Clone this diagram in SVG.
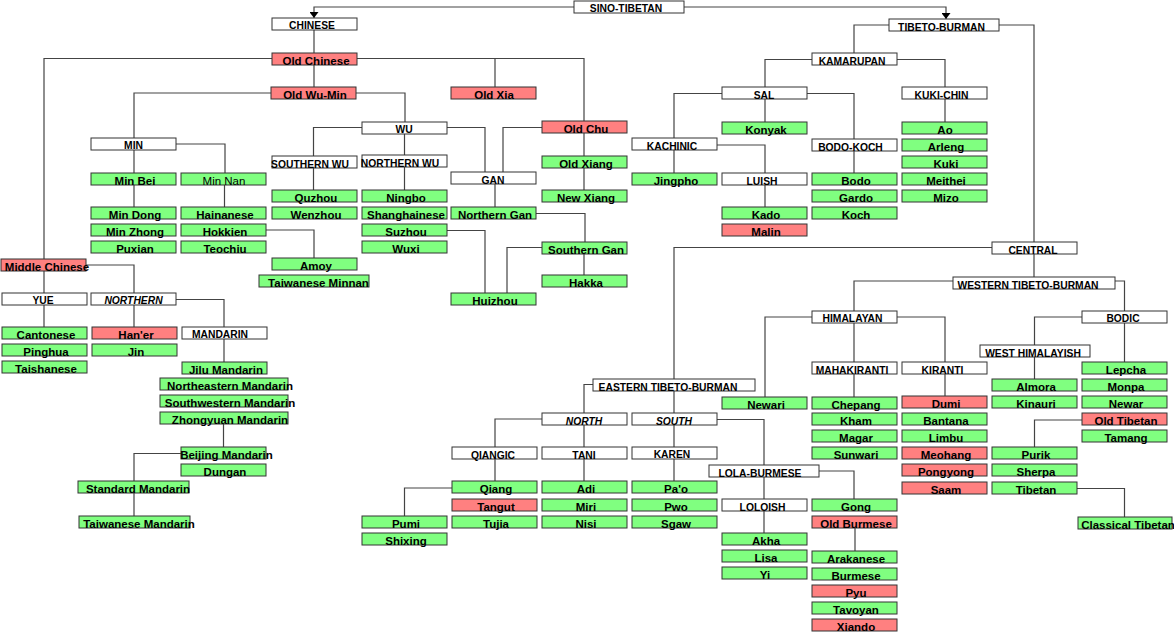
<svg xmlns="http://www.w3.org/2000/svg" width="1174" height="632" viewBox="0 0 1174 632">
<defs>
<style>
rect{stroke:#333;stroke-width:1}
.w{fill:#fff}.g{fill:#80ff80}.r{fill:#ff8080}
text{font-family:"Liberation Sans",Arial,sans-serif;font-weight:bold;text-anchor:middle;fill:#000}
.l{font-size:11.5px}
.u{font-size:10.3px}
.i{font-style:italic}
.nb{font-weight:normal}
#connectors path{fill:none;stroke:#444;stroke-width:1.2}
</style>
<marker id="arr" viewBox="0 0 6 9" refX="6" refY="4.5" markerWidth="6" markerHeight="9" markerUnits="userSpaceOnUse" orient="auto"><path d="M0,0 L6,4.5 L0,9 z" fill="#000"/></marker>
</defs>
<rect x="0" y="0" width="1174" height="632" style="fill:#fff;stroke:none"/>
<g id="connectors">
<path d="M574,7 H314 V18" marker-end="url(#arr)"/>
<path d="M684,7 H946 V19" marker-end="url(#arr)"/>
<path d="M314,30 V53"/>
<path d="M314,65 V87"/>
<path d="M272,58.5 H44 V259"/>
<path d="M357,58.5 H584 V121"/>
<path d="M495,58.5 V87"/>
<path d="M271,93 H134 V138"/>
<path d="M356,93 H405 V122"/>
<path d="M362,127.5 H313.5 V156"/>
<path d="M404.5,134 V155"/>
<path d="M447,127.5 H485 V172"/>
<path d="M542,127.5 H503 V172"/>
<path d="M584,133 V156"/>
<path d="M584,168 V190"/>
<path d="M134,150 V173"/>
<path d="M176,144 H225 V173"/>
<path d="M134,185 V207"/>
<path d="M224.5,185 V207"/>
<path d="M313.5,168 V190"/>
<path d="M404.5,167 V190"/>
<path d="M495,184 V207"/>
<path d="M266,230 H314 V258"/>
<path d="M536,213.5 H585 V242"/>
<path d="M542,247.5 H507 V293"/>
<path d="M447,230.5 H485 V293"/>
<path d="M584,254 V275"/>
<path d="M44,271 V293"/>
<path d="M86,265 H134 V293"/>
<path d="M44,305 V327"/>
<path d="M134,305 V327"/>
<path d="M176,299.5 H224 V327"/>
<path d="M224,339 V362"/>
<path d="M223.5,424 V447"/>
<path d="M181,453.5 H134 V481"/>
<path d="M134,493 V516"/>
<path d="M889,25 H854 V53"/>
<path d="M999,25 H1034 V242"/>
<path d="M812,59.5 H765 V87"/>
<path d="M897,59.5 H945 V87"/>
<path d="M722,93.5 H674 V138"/>
<path d="M765,99 V122"/>
<path d="M807,93.5 H854 V139"/>
<path d="M945,99 V122"/>
<path d="M674,150 V173"/>
<path d="M717,145 H765 V173"/>
<path d="M765,185 V207"/>
<path d="M854,151 V173"/>
<path d="M992,247.5 H674 V379"/>
<path d="M1034,254 V277"/>
<path d="M953,281 H854 V311"/>
<path d="M1115,281 H1124.5 V311"/>
<path d="M812,317 H765 V397"/>
<path d="M854,323 V362"/>
<path d="M897,317 H945 V362"/>
<path d="M1082,317 H1034.5 V345"/>
<path d="M1124.5,323 V362"/>
<path d="M1034.5,357 V379"/>
<path d="M854,374 V397"/>
<path d="M945,374 V396"/>
<path d="M1082,420 H1034.5 V447"/>
<path d="M1077,488.5 H1124.5 V517"/>
<path d="M593,384.5 H584 V413"/>
<path d="M674,391 V413"/>
<path d="M717,419.5 H764 V465"/>
<path d="M542,419 H495 V447"/>
<path d="M584,425 V447"/>
<path d="M674,425 V447"/>
<path d="M495,459 V481"/>
<path d="M584,459 V481"/>
<path d="M674,459 V481"/>
<path d="M452,488 H404.5 V516"/>
<path d="M764,477 V499"/>
<path d="M819,471 H854 V499"/>
<path d="M764,511 V533"/>
<path d="M855,528 V551"/>
</g>
<g id="n-sino-tibetan"><rect class="w" x="574" y="1" width="110" height="12"/><text class="u" x="626" y="12">SINO-TIBETAN</text></g>
<g id="n-chinese"><rect class="w" x="272" y="18" width="85" height="12"/><text class="u" x="312" y="29">CHINESE</text></g>
<g id="n-old-chinese"><rect class="r" x="272" y="53" width="85" height="12"/><text class="l" x="316" y="64.6">Old Chinese</text></g>
<g id="n-old-wu-min"><rect class="r" x="271" y="87" width="85" height="12"/><text class="l" x="315" y="98.6">Old Wu-Min</text></g>
<g id="n-old-xia"><rect class="r" x="451" y="87" width="85" height="12"/><text class="l" x="494" y="98.6">Old Xia</text></g>
<g id="n-wu"><rect class="w" x="362" y="122" width="85" height="12"/><text class="u" x="404" y="133">WU</text></g>
<g id="n-old-chu"><rect class="r" x="542" y="121" width="85" height="12"/><text class="l" x="586" y="132.6">Old Chu</text></g>
<g id="n-min"><rect class="w" x="91" y="138" width="85" height="12"/><text class="u" x="133.5" y="149">MIN</text></g>
<g id="n-southern-wu"><rect class="w" x="272" y="156" width="85" height="12"/><text class="u" x="310" y="167.5">SOUTHERN WU</text></g>
<g id="n-northern-wu"><rect class="w" x="362" y="155" width="85" height="12"/><text class="u" x="400" y="166.5">NORTHERN WU</text></g>
<g id="n-gan"><rect class="w" x="451" y="172" width="85" height="12"/><text class="u" x="493" y="183.5">GAN</text></g>
<g id="n-old-xiang"><rect class="g" x="542" y="156" width="85" height="12"/><text class="l" x="586" y="167.6">Old Xiang</text></g>
<g id="n-min-bei"><rect class="g" x="91" y="173" width="85" height="12"/><text class="l" x="135" y="184.6">Min Bei</text></g>
<g id="n-min-nan"><rect class="g" x="181" y="173" width="85" height="12"/><text class="l nb" x="224" y="184.6">Min Nan</text></g>
<g id="n-quzhou"><rect class="g" x="272" y="190" width="85" height="12"/><text class="l" x="316" y="201.6">Quzhou</text></g>
<g id="n-ningbo"><rect class="g" x="362" y="190" width="85" height="12"/><text class="l" x="406" y="201.6">Ningbo</text></g>
<g id="n-new-xiang"><rect class="g" x="542" y="190" width="85" height="12"/><text class="l" x="586" y="201.6">New Xiang</text></g>
<g id="n-min-dong"><rect class="g" x="91" y="207" width="85" height="12"/><text class="l" x="135" y="218.6">Min Dong</text></g>
<g id="n-hainanese"><rect class="g" x="181" y="207" width="85" height="12"/><text class="l" x="225" y="218.6">Hainanese</text></g>
<g id="n-wenzhou"><rect class="g" x="272" y="207" width="85" height="12"/><text class="l" x="316" y="218.6">Wenzhou</text></g>
<g id="n-shanghainese"><rect class="g" x="362" y="207" width="85" height="12"/><text class="l" x="406" y="218.6">Shanghainese</text></g>
<g id="n-northern-gan"><rect class="g" x="451" y="207" width="85" height="12"/><text class="l" x="495" y="218.6">Northern Gan</text></g>
<g id="n-min-zhong"><rect class="g" x="91" y="224" width="85" height="12"/><text class="l" x="135" y="235.6">Min Zhong</text></g>
<g id="n-hokkien"><rect class="g" x="181" y="224" width="85" height="12"/><text class="l" x="225" y="235.6">Hokkien</text></g>
<g id="n-suzhou"><rect class="g" x="362" y="224" width="85" height="12"/><text class="l" x="406" y="235.6">Suzhou</text></g>
<g id="n-puxian"><rect class="g" x="91" y="241" width="85" height="12"/><text class="l" x="135" y="252.6">Puxian</text></g>
<g id="n-teochiu"><rect class="g" x="181" y="241" width="85" height="12"/><text class="l" x="225" y="252.6">Teochiu</text></g>
<g id="n-wuxi"><rect class="g" x="362" y="241" width="85" height="12"/><text class="l" x="406" y="252.6">Wuxi</text></g>
<g id="n-southern-gan"><rect class="g" x="542" y="242" width="85" height="12"/><text class="l" x="586" y="253.6">Southern Gan</text></g>
<g id="n-amoy"><rect class="g" x="272" y="258" width="85" height="12"/><text class="l" x="316" y="269.6">Amoy</text></g>
<g id="n-middle-chinese"><rect class="r" x="1" y="259" width="85" height="12"/><text class="l" x="47" y="270.6">Middle Chinese</text></g>
<g id="n-taiwanese-minnan"><rect class="g" x="259" y="275" width="110" height="12"/><text class="l" x="318.5" y="286.6">Taiwanese Minnan</text></g>
<g id="n-hakka"><rect class="g" x="542" y="275" width="85" height="12"/><text class="l" x="586" y="286.6">Hakka</text></g>
<g id="n-yue"><rect class="w" x="2" y="293" width="85" height="12"/><text class="u" x="43" y="304.3">YUE</text></g>
<g id="n-northern"><rect class="w" x="91" y="293" width="85" height="12"/><text class="u i" x="133.5" y="304.3">NORTHERN</text></g>
<g id="n-huizhou"><rect class="g" x="451" y="293" width="85" height="12"/><text class="l" x="495" y="304.6">Huizhou</text></g>
<g id="n-cantonese"><rect class="g" x="2" y="327" width="85" height="12"/><text class="l" x="46" y="338.6">Cantonese</text></g>
<g id="n-haner"><rect class="r" x="92" y="327" width="85" height="12"/><text class="l" x="136" y="338.6">Han'er</text></g>
<g id="n-mandarin"><rect class="w" x="182" y="327" width="85" height="12"/><text class="u" x="220" y="338.3">MANDARIN</text></g>
<g id="n-pinghua"><rect class="g" x="2" y="344" width="85" height="12"/><text class="l" x="46" y="355.6">Pinghua</text></g>
<g id="n-jin"><rect class="g" x="92" y="344" width="85" height="12"/><text class="l" x="136" y="355.6">Jin</text></g>
<g id="n-taishanese"><rect class="g" x="2" y="361" width="85" height="12"/><text class="l" x="46" y="372.6">Taishanese</text></g>
<g id="n-jilu-mandarin"><rect class="g" x="182" y="362" width="85" height="12"/><text class="l" x="226" y="373.6">Jilu Mandarin</text></g>
<g id="n-northeastern-mandarin"><rect class="g" x="160" y="378" width="128" height="12"/><text class="l" x="230" y="389.6">Northeastern Mandarin</text></g>
<g id="n-southwestern-mandarin"><rect class="g" x="160" y="395" width="128" height="12"/><text class="l" x="230" y="406.6">Southwestern Mandarin</text></g>
<g id="n-zhongyuan-mandarin"><rect class="g" x="160" y="412" width="128" height="12"/><text class="l" x="230" y="423.6">Zhongyuan Mandarin</text></g>
<g id="n-beijing-mandarin"><rect class="g" x="181" y="447" width="85" height="12"/><text class="l" x="226.5" y="458.6">Beijing Mandarin</text></g>
<g id="n-dungan"><rect class="g" x="181" y="464" width="85" height="12"/><text class="l" x="225" y="475.6">Dungan</text></g>
<g id="n-standard-mandarin"><rect class="g" x="78" y="481" width="111" height="12"/><text class="l" x="138" y="492.6">Standard Mandarin</text></g>
<g id="n-taiwanese-mandarin"><rect class="g" x="79" y="516" width="111" height="12"/><text class="l" x="139" y="527.6">Taiwanese Mandarin</text></g>
<g id="n-tibeto-burman"><rect class="w" x="889" y="19" width="110" height="12"/><text class="u" x="941.5" y="30.5">TIBETO-BURMAN</text></g>
<g id="n-kamarupan"><rect class="w" x="812" y="53" width="85" height="12"/><text class="u" x="852" y="64.6">KAMARUPAN</text></g>
<g id="n-sal"><rect class="w" x="722" y="87" width="85" height="12"/><text class="u" x="764" y="98.5">SAL</text></g>
<g id="n-kuki-chin"><rect class="w" x="902" y="87" width="85" height="12"/><text class="u" x="941.5" y="98.5">KUKI-CHIN</text></g>
<g id="n-konyak"><rect class="g" x="722" y="122" width="85" height="12"/><text class="l" x="766" y="133.6">Konyak</text></g>
<g id="n-ao"><rect class="g" x="902" y="122" width="85" height="12"/><text class="l" x="945" y="133.6">Ao</text></g>
<g id="n-kachinic"><rect class="w" x="632" y="138" width="85" height="12"/><text class="u" x="672" y="149.5">KACHINIC</text></g>
<g id="n-bodo-koch"><rect class="w" x="812" y="139" width="85" height="12"/><text class="u" x="850.5" y="150.5">BODO-KOCH</text></g>
<g id="n-arleng"><rect class="g" x="902" y="139" width="85" height="12"/><text class="l" x="946" y="150.6">Arleng</text></g>
<g id="n-kuki"><rect class="g" x="902" y="156" width="85" height="12"/><text class="l" x="946" y="167.6">Kuki</text></g>
<g id="n-jingpho"><rect class="g" x="632" y="173" width="85" height="12"/><text class="l" x="676" y="184.6">Jingpho</text></g>
<g id="n-luish"><rect class="w" x="722" y="173" width="85" height="12"/><text class="u" x="762" y="184.5">LUISH</text></g>
<g id="n-bodo"><rect class="g" x="812" y="173" width="85" height="12"/><text class="l" x="856" y="184.6">Bodo</text></g>
<g id="n-meithei"><rect class="g" x="902" y="173" width="85" height="12"/><text class="l" x="946" y="184.6">Meithei</text></g>
<g id="n-gardo"><rect class="g" x="812" y="190" width="85" height="12"/><text class="l" x="856" y="201.6">Gardo</text></g>
<g id="n-mizo"><rect class="g" x="902" y="190" width="85" height="12"/><text class="l" x="946" y="201.6">Mizo</text></g>
<g id="n-kado"><rect class="g" x="722" y="207" width="85" height="12"/><text class="l" x="766" y="218.6">Kado</text></g>
<g id="n-koch"><rect class="g" x="812" y="207" width="85" height="12"/><text class="l" x="856" y="218.6">Koch</text></g>
<g id="n-malin"><rect class="r" x="722" y="224" width="85" height="12"/><text class="l" x="766" y="235.6">Malin</text></g>
<g id="n-central"><rect class="w" x="992" y="242" width="85" height="12"/><text class="u" x="1033" y="253.5">CENTRAL</text></g>
<g id="n-western-tibeto-burman"><rect class="w" x="953" y="277" width="162" height="12"/><text class="u" x="1028" y="288.5">WESTERN TIBETO-BURMAN</text></g>
<g id="n-himalayan"><rect class="w" x="812" y="311" width="85" height="12"/><text class="u" x="852.5" y="322.3">HIMALAYAN</text></g>
<g id="n-bodic"><rect class="w" x="1082" y="311" width="85" height="12"/><text class="u" x="1123" y="322.3">BODIC</text></g>
<g id="n-west-himalayish"><rect class="w" x="980" y="345" width="110" height="12"/><text class="u" x="1033" y="356.5">WEST HIMALAYISH</text></g>
<g id="n-mahakiranti"><rect class="w" x="812" y="362" width="85" height="12"/><text class="u" x="852" y="373.5">MAHAKIRANTI</text></g>
<g id="n-kiranti"><rect class="w" x="902" y="362" width="85" height="12"/><text class="u" x="942.5" y="373.5">KIRANTI</text></g>
<g id="n-lepcha"><rect class="g" x="1082" y="362" width="85" height="12"/><text class="l" x="1126" y="373.6">Lepcha</text></g>
<g id="n-eastern-tibeto-burman"><rect class="w" x="593" y="379" width="162" height="12"/><text class="u" x="668" y="390.5">EASTERN TIBETO-BURMAN</text></g>
<g id="n-almora"><rect class="g" x="992" y="379" width="85" height="12"/><text class="l" x="1036" y="390.6">Almora</text></g>
<g id="n-monpa"><rect class="g" x="1082" y="379" width="85" height="12"/><text class="l" x="1126" y="390.6">Monpa</text></g>
<g id="n-newari"><rect class="g" x="722" y="397" width="85" height="12"/><text class="l" x="766" y="408.6">Newari</text></g>
<g id="n-chepang"><rect class="g" x="812" y="397" width="85" height="12"/><text class="l" x="856" y="408.6">Chepang</text></g>
<g id="n-dumi"><rect class="r" x="902" y="396" width="85" height="12"/><text class="l" x="946" y="407.6">Dumi</text></g>
<g id="n-kinauri"><rect class="g" x="992" y="396" width="85" height="12"/><text class="l" x="1036" y="407.6">Kinauri</text></g>
<g id="n-newar"><rect class="g" x="1082" y="396" width="85" height="12"/><text class="l" x="1126" y="407.6">Newar</text></g>
<g id="n-north"><rect class="w" x="542" y="413" width="85" height="12"/><text class="u i" x="584" y="424.5">NORTH</text></g>
<g id="n-south"><rect class="w" x="632" y="413" width="85" height="12"/><text class="u i" x="674" y="424.5">SOUTH</text></g>
<g id="n-kham"><rect class="g" x="812" y="413" width="85" height="12"/><text class="l" x="856" y="424.6">Kham</text></g>
<g id="n-bantana"><rect class="g" x="902" y="413" width="85" height="12"/><text class="l" x="946" y="424.6">Bantana</text></g>
<g id="n-old-tibetan"><rect class="r" x="1082" y="413" width="85" height="12"/><text class="l" x="1126" y="424.6">Old Tibetan</text></g>
<g id="n-magar"><rect class="g" x="812" y="430" width="85" height="12"/><text class="l" x="856" y="441.6">Magar</text></g>
<g id="n-limbu"><rect class="g" x="902" y="430" width="85" height="12"/><text class="l" x="946" y="441.6">Limbu</text></g>
<g id="n-tamang"><rect class="g" x="1082" y="430" width="85" height="12"/><text class="l" x="1126" y="441.6">Tamang</text></g>
<g id="n-qiangic"><rect class="w" x="452" y="447" width="85" height="12"/><text class="u" x="493" y="458.5">QIANGIC</text></g>
<g id="n-tani"><rect class="w" x="542" y="447" width="85" height="12"/><text class="u" x="584" y="458.5">TANI</text></g>
<g id="n-karen"><rect class="w" x="632" y="447" width="85" height="12"/><text class="u" x="672" y="458.2">KAREN</text></g>
<g id="n-sunwari"><rect class="g" x="812" y="447" width="85" height="12"/><text class="l" x="856" y="458.6">Sunwari</text></g>
<g id="n-meohang"><rect class="r" x="902" y="447" width="85" height="12"/><text class="l" x="946" y="458.6">Meohang</text></g>
<g id="n-purik"><rect class="g" x="992" y="447" width="85" height="12"/><text class="l" x="1036" y="458.6">Purik</text></g>
<g id="n-lola-burmese"><rect class="w" x="709" y="465" width="110" height="12"/><text class="u" x="760" y="476.5">LOLA-BURMESE</text></g>
<g id="n-pongyong"><rect class="r" x="902" y="464" width="85" height="12"/><text class="l" x="946" y="475.6">Pongyong</text></g>
<g id="n-sherpa"><rect class="g" x="992" y="464" width="85" height="12"/><text class="l" x="1036" y="475.6">Sherpa</text></g>
<g id="n-qiang"><rect class="g" x="452" y="481" width="85" height="12"/><text class="l" x="496" y="492.6">Qiang</text></g>
<g id="n-adi"><rect class="g" x="542" y="481" width="85" height="12"/><text class="l" x="586" y="492.6">Adi</text></g>
<g id="n-pao"><rect class="g" x="632" y="481" width="85" height="12"/><text class="l" x="676" y="492.6">Pa'o</text></g>
<g id="n-saam"><rect class="r" x="902" y="482" width="85" height="12"/><text class="l" x="946" y="493.6">Saam</text></g>
<g id="n-tibetan"><rect class="g" x="992" y="482" width="85" height="12"/><text class="l" x="1036" y="493.6">Tibetan</text></g>
<g id="n-tangut"><rect class="r" x="452" y="499" width="85" height="12"/><text class="l" x="496" y="510.6">Tangut</text></g>
<g id="n-miri"><rect class="g" x="542" y="499" width="85" height="12"/><text class="l" x="586" y="510.6">Miri</text></g>
<g id="n-pwo"><rect class="g" x="632" y="499" width="85" height="12"/><text class="l" x="676" y="510.6">Pwo</text></g>
<g id="n-loloish"><rect class="w" x="722" y="499" width="85" height="12"/><text class="u" x="762.5" y="510.5">LOLOISH</text></g>
<g id="n-gong"><rect class="g" x="812" y="499" width="85" height="12"/><text class="l" x="856" y="510.6">Gong</text></g>
<g id="n-pumi"><rect class="g" x="362" y="516" width="85" height="12"/><text class="l" x="406" y="527.6">Pumi</text></g>
<g id="n-tujia"><rect class="g" x="452" y="516" width="85" height="12"/><text class="l" x="496" y="527.6">Tujia</text></g>
<g id="n-nisi"><rect class="g" x="542" y="516" width="85" height="12"/><text class="l" x="586" y="527.6">Nisi</text></g>
<g id="n-sgaw"><rect class="g" x="632" y="516" width="85" height="12"/><text class="l" x="676" y="527.6">Sgaw</text></g>
<g id="n-old-burmese"><rect class="r" x="812" y="516" width="85" height="12"/><text class="l" x="856" y="527.6">Old Burmese</text></g>
<g id="n-classical-tibetan"><rect class="g" x="1078" y="517" width="94" height="12"/><text class="l" x="1128" y="528.6">Classical Tibetan</text></g>
<g id="n-shixing"><rect class="g" x="362" y="533" width="85" height="12"/><text class="l" x="406" y="544.6">Shixing</text></g>
<g id="n-akha"><rect class="g" x="722" y="533" width="85" height="12"/><text class="l" x="766" y="544.6">Akha</text></g>
<g id="n-lisa"><rect class="g" x="722" y="550" width="85" height="12"/><text class="l" x="766" y="561.6">Lisa</text></g>
<g id="n-arakanese"><rect class="g" x="812" y="551" width="85" height="12"/><text class="l" x="856" y="562.6">Arakanese</text></g>
<g id="n-yi"><rect class="g" x="722" y="567" width="85" height="12"/><text class="l" x="765" y="578.6">Yi</text></g>
<g id="n-burmese"><rect class="g" x="812" y="568" width="85" height="12"/><text class="l" x="856" y="579.6">Burmese</text></g>
<g id="n-pyu"><rect class="r" x="812" y="585" width="85" height="12"/><text class="l" x="856" y="596.6">Pyu</text></g>
<g id="n-tavoyan"><rect class="g" x="812" y="602" width="85" height="12"/><text class="l" x="856" y="613.6">Tavoyan</text></g>
<g id="n-xiando"><rect class="r" x="812" y="619" width="85" height="12"/><text class="l" x="856" y="630.6">Xiando</text></g>
</svg>
